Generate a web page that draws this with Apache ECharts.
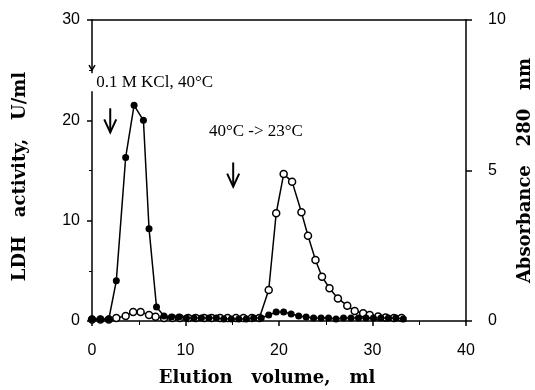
<!DOCTYPE html>
<html>
<head>
<meta charset="utf-8">
<script src="https://cdn.jsdelivr.net/npm/echarts@6/dist/echarts.min.js"></script>
<style>
  html, body { margin: 0; padding: 0; background: #fff; }
  #chart { width: 535px; height: 390px; }
</style>
</head>
<body>
<div id="chart"></div>
<script>
// LDH activity (filled circles, left axis, U/ml)
const ldhVolume = [0, 0.9, 1.8, 2.6, 3.6, 4.5, 5.5, 6.1, 6.9, 7.7, 8.5, 9.3, 10.1, 10.9, 11.7, 12.5, 13.3, 14.1, 14.9, 15.7, 16.5, 17.3, 18.1, 18.9, 19.7, 20.5, 21.3, 22.1, 22.9, 23.7, 24.5, 25.3, 26.1, 26.9, 27.7, 28.5, 29.3, 30.1, 30.9, 31.7, 32.5, 33.3]
const ldhActivity = [0.2, 0.2, 0.2, 4.0, 16.3, 21.5, 20.0, 9.2, 1.4, 0.5, 0.4, 0.4, 0.3, 0.3, 0.3, 0.3, 0.3, 0.2, 0.2, 0.2, 0.2, 0.3, 0.3, 0.6, 0.9, 0.9, 0.7, 0.5, 0.4, 0.3, 0.3, 0.3, 0.2, 0.3, 0.3, 0.3, 0.3, 0.3, 0.3, 0.3, 0.3, 0.2]

// Absorbance 280 nm (open circles, right axis)
const absVolume = [0, 0.9, 1.8, 2.6, 3.6, 4.4, 5.2, 6.1, 6.8, 7.7, 8.6, 9.4, 10.3, 11.1, 12.0, 12.8, 13.7, 14.5, 15.4, 16.2, 17.1, 17.9, 18.9, 19.7, 20.5, 21.4, 22.4, 23.1, 23.9, 24.6, 25.4, 26.3, 27.3, 28.1, 29.0, 29.7, 30.6, 31.4, 32.3, 33.1]
const absorbance = [0.05, 0.05, 0.05, 0.1, 0.17, 0.3, 0.3, 0.2, 0.14, 0.1, 0.1, 0.1, 0.1, 0.1, 0.1, 0.1, 0.1, 0.1, 0.1, 0.1, 0.1, 0.1, 1.03, 3.58, 4.88, 4.63, 3.61, 2.83, 2.03, 1.47, 1.09, 0.75, 0.51, 0.33, 0.26, 0.2, 0.15, 0.12, 0.1, 0.1]

// axis ranges
const xRange = [0, 40, 10]
const leftRange = [0, 30, 10]
const rightRange = [0, 10, 5]

// annotations: [text, x (ml), y (U/ml)] and arrows [x, yTop, yBottom]
const notes = [
  ["0.1 M KCl, 40°C", 0.45, 23.8],
  ["40°C -> 23°C", 12.5, 18.9],
]
const arrows = [
  [1.95, 21.2, 18.8],
  [15.1, 15.8, 13.4],
]

const chartDom = document.getElementById("chart")
const myChart = echarts.init(chartDom, null, { width: 535, height: 390 })

const tickFont = { color: "#000", fontSize: 16, fontFamily: "Liberation Sans" }
const nameFont = { color: "#000", fontSize: 18, fontWeight: "bold", fontFamily: "DejaVu Serif" }
const axisLine = { show: true, onZero: false, lineStyle: { color: "#000", width: 1.5 } }

const option = {
  animation: false,
  backgroundColor: "#fff",
  grid: { left: 92, right: 69, top: 20, bottom: 69, containLabel: false, outerBoundsMode: "none" },
  xAxis: [
    {
      type: "value",
      min: xRange[0],
      max: xRange[1],
      interval: xRange[2],
      position: "bottom",
      axisLine,
      axisTick: { show: true, inside: false, length: 5, lineStyle: { width: 1.5 } },
      minorTick: { show: true, splitNumber: 2, length: 4, lineStyle: { color: "#000" } },
      axisLabel: { ...tickFont, margin: 22 },
      splitLine: { show: false },
      name: "Elution   volume,   ml",
      nameLocation: "middle",
      nameGap: 48,
      nameTextStyle: { ...nameFont, padding: [0, 24, 0, 0] },
    },
    {
      type: "value",
      min: xRange[0],
      max: xRange[1],
      position: "top",
      axisLine,
      axisTick: { show: false },
      axisLabel: { show: false },
      splitLine: { show: false },
    },
  ],
  yAxis: [
    {
      type: "value",
      min: leftRange[0],
      max: leftRange[1],
      interval: leftRange[2],
      position: "left",
      axisLine,
      axisTick: { show: true, inside: false, length: 5, lineStyle: { width: 1.5 } },
      minorTick: { show: true, splitNumber: 2, length: 3, lineStyle: { color: "#000" } },
      axisLabel: { ...tickFont, margin: 12 },
      splitLine: { show: false },
      name: "LDH   activity,   U/ml",
      nameLocation: "middle",
      nameRotate: 90,
      nameGap: 63,
      nameTextStyle: { ...nameFont, padding: [0, 12, 0, 0] },
    },
    {
      type: "value",
      min: rightRange[0],
      max: rightRange[1],
      interval: rightRange[2],
      position: "right",
      axisLine,
      axisTick: { show: true, inside: false, length: 6, lineStyle: { width: 1.5 } },
      axisLabel: { ...tickFont, margin: 22 },
      splitLine: { show: false },
      name: "Absorbance   280   nm",
      nameLocation: "middle",
      nameRotate: 90,
      nameGap: 50,
      nameTextStyle: nameFont,
    },
  ],
  series: [
    {
      name: "LDH activity",
      type: "line",
      yAxisIndex: 0,
      z: 3,
      data: ldhVolume.map((x, i) => [x, ldhActivity[i]]),
      symbol: "circle",
      symbolSize: 7,
      itemStyle: { color: "#000" },
      lineStyle: { color: "#000", width: 1.5 },
    },
    {
      name: "Absorbance 280 nm",
      type: "line",
      yAxisIndex: 1,
      z: 2,
      data: absVolume.map((x, i) => [x, absorbance[i]]),
      symbol: "circle",
      symbolSize: 7,
      itemStyle: { color: "#fff", borderColor: "#000", borderWidth: 1.5 },
      lineStyle: { color: "#000", width: 1.5 },
    },
  ],
}

myChart.setOption(option)

// annotations placed through the axes
const px = (x, y) => myChart.convertToPixel({ xAxisIndex: 0, yAxisIndex: 0 }, [x, y])
const graphics = []

notes.forEach(([text, x, y]) => {
  const p = px(x, y)
  graphics.push({
    type: "text",
    x: p[0],
    y: p[1],
    z: 10,
    style: { text, fill: "#000", font: "17px 'Liberation Serif'", textVerticalAlign: "middle" },
  })
})

const arrowShape = (top, bottom) => [
  { type: "line", shape: { x1: top[0], y1: top[1], x2: bottom[0], y2: bottom[1] } },
  { type: "polyline", shape: { points: [[bottom[0] - 6, bottom[1] - 13], bottom, [bottom[0] + 6, bottom[1] - 13]] } },
]
arrows.forEach(([x, y1, y2]) => {
  arrowShape(px(x, y1), px(x, y2)).forEach((g) => {
    graphics.push({ ...g, z: 10, style: { stroke: "#000", lineWidth: 2, fill: null } })
  })
})

// break in the left axis under the first label, with the arrow tip above it
const gapTop = px(0, 24.7)
const gapBottom = px(0, 22.9)
graphics.push({
  type: "rect",
  z: 9,
  shape: { x: gapTop[0] - 3, y: gapTop[1], width: 6, height: gapBottom[1] - gapTop[1] },
  style: { fill: "#fff" },
})
const tip = px(0, 25.0)
graphics.push({
  type: "polyline",
  z: 10,
  shape: { points: [[tip[0] - 3, tip[1] - 5], tip, [tip[0] + 3, tip[1] - 5]] },
  style: { stroke: "#000", lineWidth: 1.5, fill: null },
})

myChart.setOption({ graphic: graphics })
</script>
</body>
</html>
